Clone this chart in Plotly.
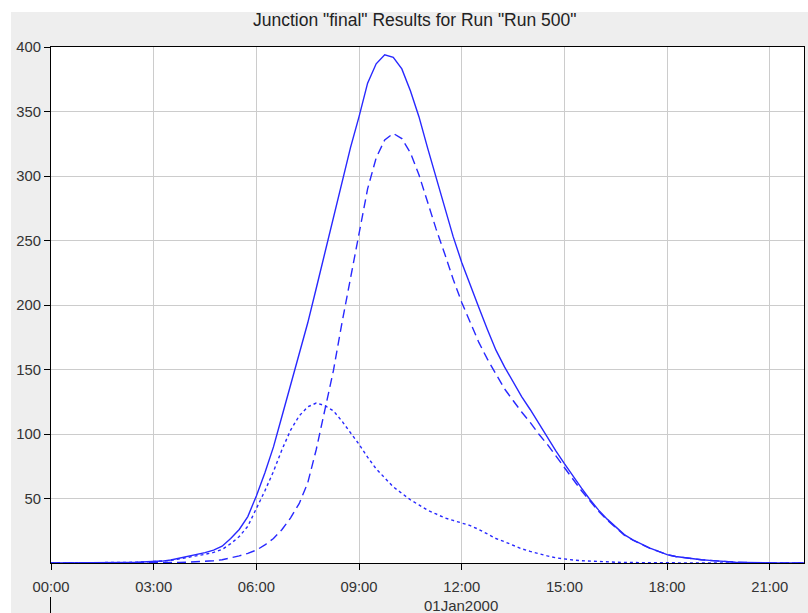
import pandas as pd
import plotly.graph_objects as go

# 15-minute time steps, 01Jan2000 00:00 .. 22:00
times = pd.date_range("2000-01-01 00:00", "2000-01-01 22:00", freq="15min")

# Junction outflow (total)
flow_total = [
    0, 0, 0, 0,                    # 00:00
    0, 0, 0.2, 0.3,                # 01:00
    0.4, 0.5, 0.6, 0.8,            # 02:00
    1.0, 1.5, 2.3, 3.6,            # 03:00
    5.0, 6.4, 8.0, 10.0,           # 04:00
    13.0, 19.0, 26.0, 36.0,        # 05:00
    52.0, 70.0, 90.0, 114.0,       # 06:00
    138.0, 162.0, 186.0, 213.0,    # 07:00
    240.0, 267.0, 296.0, 322.0,    # 08:00
    346.0, 372.0, 387.0, 394.0,    # 09:00
    392.0, 383.0, 366.0, 346.0,    # 10:00
    322.0, 299.0, 276.0, 253.0,    # 11:00
    233.0, 215.0, 198.0, 181.0,    # 12:00
    165.0, 152.0, 140.0, 129.0,    # 13:00
    119.0, 108.0, 97.0, 87.0,      # 14:00
    77.0, 67.0, 58.0, 49.0,        # 15:00
    41.0, 34.0, 28.0, 22.0,        # 16:00
    18.0, 14.5, 11.5, 9.0,         # 17:00
    6.5, 5.0, 4.0, 3.2,            # 18:00
    2.5, 2.0, 1.4, 1.0,            # 19:00
    0.6, 0.4, 0.2, 0.1,            # 20:00
    0, 0, 0, 0,                    # 21:00
    0,                             # 22:00
]

# Inflow from the main upstream reach (dashed)
flow_reach = [
    0, 0, 0, 0,
    0, 0, 0, 0,
    0, 0, 0, 0,
    0, 0.1, 0.2, 0.4,
    0.6, 0.9, 1.3, 1.8,
    2.5, 3.8, 5.5, 7.5,
    10.0, 14.0, 19.0, 26.0,
    35.0, 46.0, 62.0, 88.0,
    118.0, 149.0, 186.0, 221.0,
    254.0, 290.0, 314.0, 328.0,
    333.0, 329.0, 318.0, 301.0,
    280.0, 259.0, 240.0, 220.0,
    202.0, 186.0, 171.0, 158.0,
    146.0, 135.0, 126.0, 117.0,
    109.0, 100.0, 92.0, 83.0,
    74.0, 65.0, 56.0, 48.0,
    40.0, 33.2, 27.4, 21.6,
    17.7, 14.3, 11.4, 9.0,
    6.5, 5.0, 4.0, 3.2,
    2.5, 2.0, 1.4, 1.0,
    0.6, 0.4, 0.2, 0.1,
    0, 0, 0, 0,
    0,
]

# Inflow from the local subbasin (dotted)
flow_local = [
    0, 0, 0, 0,
    0, 0, 0.2, 0.3,
    0.4, 0.5, 0.6, 0.8,
    1.0, 1.4, 2.1, 3.2,
    4.4, 5.5, 6.7, 8.2,
    10.5, 15.0, 20.5, 28.5,
    42.0, 56.0, 71.0, 88.0,
    103.0, 114.0, 121.0, 124.0,
    122.0, 118.0, 110.0, 101.0,
    92.0, 82.0, 73.0, 66.0,
    59.0, 54.0, 49.0, 45.0,
    41.0, 38.0, 35.0, 33.0,
    31.0, 29.0, 26.0, 22.5,
    19.0, 16.5, 13.5, 11.0,
    9.0, 7.0, 5.5, 4.0,
    3.0, 2.3, 1.8, 1.4,
    1.0, 0.8, 0.6, 0.4,
    0.3, 0.2, 0.1, 0,
    0, 0, 0, 0,
    0, 0, 0, 0,
    0, 0, 0, 0,
    0, 0, 0, 0,
    0,
]

y_ticks = [50, 100, 150, 200, 250, 300, 350, 400]
x_ticks = pd.date_range("2000-01-01 00:00", "2000-01-01 21:00", freq="3h")
x_tick_text = [t.strftime("%H:%M") for t in x_ticks]

W, H = 808, 613
ML, MR, MT, MB = 51, 4, 47, 50
PW, PH = W - ML - MR, H - MT - MB


def px_x(p):
    return (p - ML) / PW


def px_y(p):
    return (H - MB - p) / PH


LINE = "#2828ff"
FONT = "Liberation Sans, Arial, sans-serif"
TICK_FONT = dict(family=FONT, size=14.8, color="#333333")

fig = go.Figure()
fig.add_trace(go.Scatter(x=times, y=flow_total, mode="lines", name="Outflow",
                         line=dict(color=LINE, width=1.4)))
fig.add_trace(go.Scatter(x=times, y=flow_reach, mode="lines", name="Reach",
                         line=dict(color=LINE, width=1.4, dash="9px,5px")))
fig.add_trace(go.Scatter(x=times, y=flow_local, mode="lines", name="Subbasin",
                         line=dict(color=LINE, width=1.4, dash="3px,3px")))

fig.update_layout(
    width=W, height=H,
    margin=dict(l=ML, r=MR, t=MT, b=MB, pad=0),
    paper_bgcolor="#eeeeee",
    plot_bgcolor="white",
    showlegend=False,
    font=dict(family=FONT, size=14.8, color="#333333"),
    xaxis=dict(
        range=[times[0], times[-1]],
        tickvals=list(x_ticks), ticktext=x_tick_text,
        showgrid=True, gridcolor="#cccccc", gridwidth=1,
        showline=True, linecolor="black", linewidth=1, mirror=True,
        ticks="outside", ticklen=6, tickcolor="black",
        ticklabelstandoff=4,
        zeroline=False, layer="below traces",
        tickfont=TICK_FONT,
    ),
    yaxis=dict(
        range=[0, 400],
        tickvals=y_ticks,
        showgrid=True, gridcolor="#cccccc", gridwidth=1,
        showline=True, linecolor="black", linewidth=1, mirror=True,
        ticks="outside", ticklen=6, tickcolor="black",
        zeroline=False,
        tickfont=TICK_FONT,
    ),
    shapes=[
        # white frame strips around the grey panel
        dict(type="rect", xref="paper", yref="paper",
             x0=px_x(0), x1=px_x(11), y0=px_y(H), y1=px_y(0),
             fillcolor="white", line=dict(width=0)),
        dict(type="rect", xref="paper", yref="paper",
             x0=px_x(0), x1=px_x(W), y0=px_y(12), y1=px_y(0),
             fillcolor="white", line=dict(width=0)),
        # date-axis tick under the first time label
        dict(type="line", xref="paper", yref="paper",
             x0=px_x(50.5), x1=px_x(50.5), y0=px_y(597), y1=px_y(H),
             line=dict(color="black", width=1)),
    ],
    annotations=[
        dict(text='Junction "final" Results for Run "Run 500"',
             xref="paper", yref="paper", x=px_x(415), y=px_y(20),
             xanchor="center", yanchor="middle", showarrow=False,
             font=dict(family=FONT, size=17.5, color="#222222")),
        dict(text="01Jan2000", xref="paper", yref="paper",
             x=px_x(461), y=px_y(605), xanchor="center", yanchor="middle",
             showarrow=False, font=dict(family=FONT, size=15, color="#333333")),
    ],
)

fig.write_html("out.html")
